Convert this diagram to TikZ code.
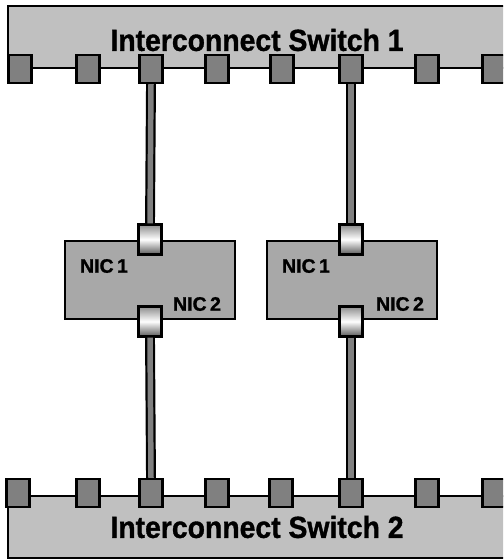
\documentclass[tikz,border=0pt]{standalone}
\usepackage{fontspec}
\setmainfont{Liberation Sans}[BoldFeatures={FakeBold=1.2}]
\definecolor{switchgray}{RGB}{192,192,192}
\definecolor{nicgray}{RGB}{168,168,168}
\definecolor{portgray}{RGB}{128,128,128}
\tikzset{
  switchbox/.style={draw, line width=2.6pt, fill=switchgray, minimum width=540pt, minimum height=62pt, inner sep=0pt},
  port/.style={draw, line width=2.4pt, fill=portgray, minimum width=23pt, minimum height=28pt, inner sep=0pt},
  nicbox/.style={draw, line width=2.6pt, fill=nicgray, minimum width=170pt, minimum height=78pt, inner sep=0pt},
  plug/.style={draw, line width=2.2pt, top color=gray!90, bottom color=gray!70!black, middle color=white, minimum width=23pt, minimum height=30pt, inner sep=0pt},
  cable/.style={line width=2.2pt, double=portgray, double distance=5.5pt},
  switchlabel/.style={font=\bfseries\fontsize{30.5}{32}\selectfont, inner sep=0pt},
  niclabel/.style={font=\bfseries\fontsize{19.5}{21}\selectfont, inner sep=0pt}
}
\begin{document}
\begin{tikzpicture}[x=1pt, y=-1pt]
  \clip (0,0) rectangle (503,559);
  % switches
  \node[switchbox] (sw1) at (278,37) {};
  \node[switchbox] (sw2) at (278,527) {};
  \node[switchlabel] (sw1text) at (257,40) {\scalebox{0.93}[1]{Interconnect Switch 1}};
  \node[switchlabel] (sw2text) at (257,527) {\scalebox{0.93}[1]{Interconnect Switch 2}};
  % ports
  \foreach \x [count=\i] in {20,88,151,217,282,351,427,494}
    \node[port] (tp\i) at (\x,69) {};
  \foreach \x [count=\i] in {18,88,151,217,281,351,427,494}
    \node[port] (bp\i) at (\x,493) {};
  % NIC boxes
  \node[nicbox] (nicA) at (150,280) {};
  \node[nicbox] (nicB) at (352,280) {};
  \node[niclabel] (nicA1) at (104,266) {NIC\kern-2pt{} 1};
  \node[niclabel] (nicA2) at (197,304) {NIC\kern-2pt{} 2};
  \node[niclabel] (nicB1) at (306,266) {NIC\kern-2pt{} 1};
  \node[niclabel] (nicB2) at (400,304) {NIC\kern-2pt{} 2};
  \node[plug] (plugAt) at (150,239.5) {};
  \node[plug] (plugAb) at (150,321.5) {};
  \node[plug] (plugBt) at (351,239.5) {};
  \node[plug] (plugBb) at (351,321.5) {};
  % cables
  \draw[cable] (tp3.south) -- (plugAt.north);
  \draw[cable] (tp6.south) -- (plugBt.north);
  \draw[cable] (plugAb.south) -- (bp3.north);
  \draw[cable] (plugBb.south) -- (bp6.north);
\end{tikzpicture}
\end{document}
